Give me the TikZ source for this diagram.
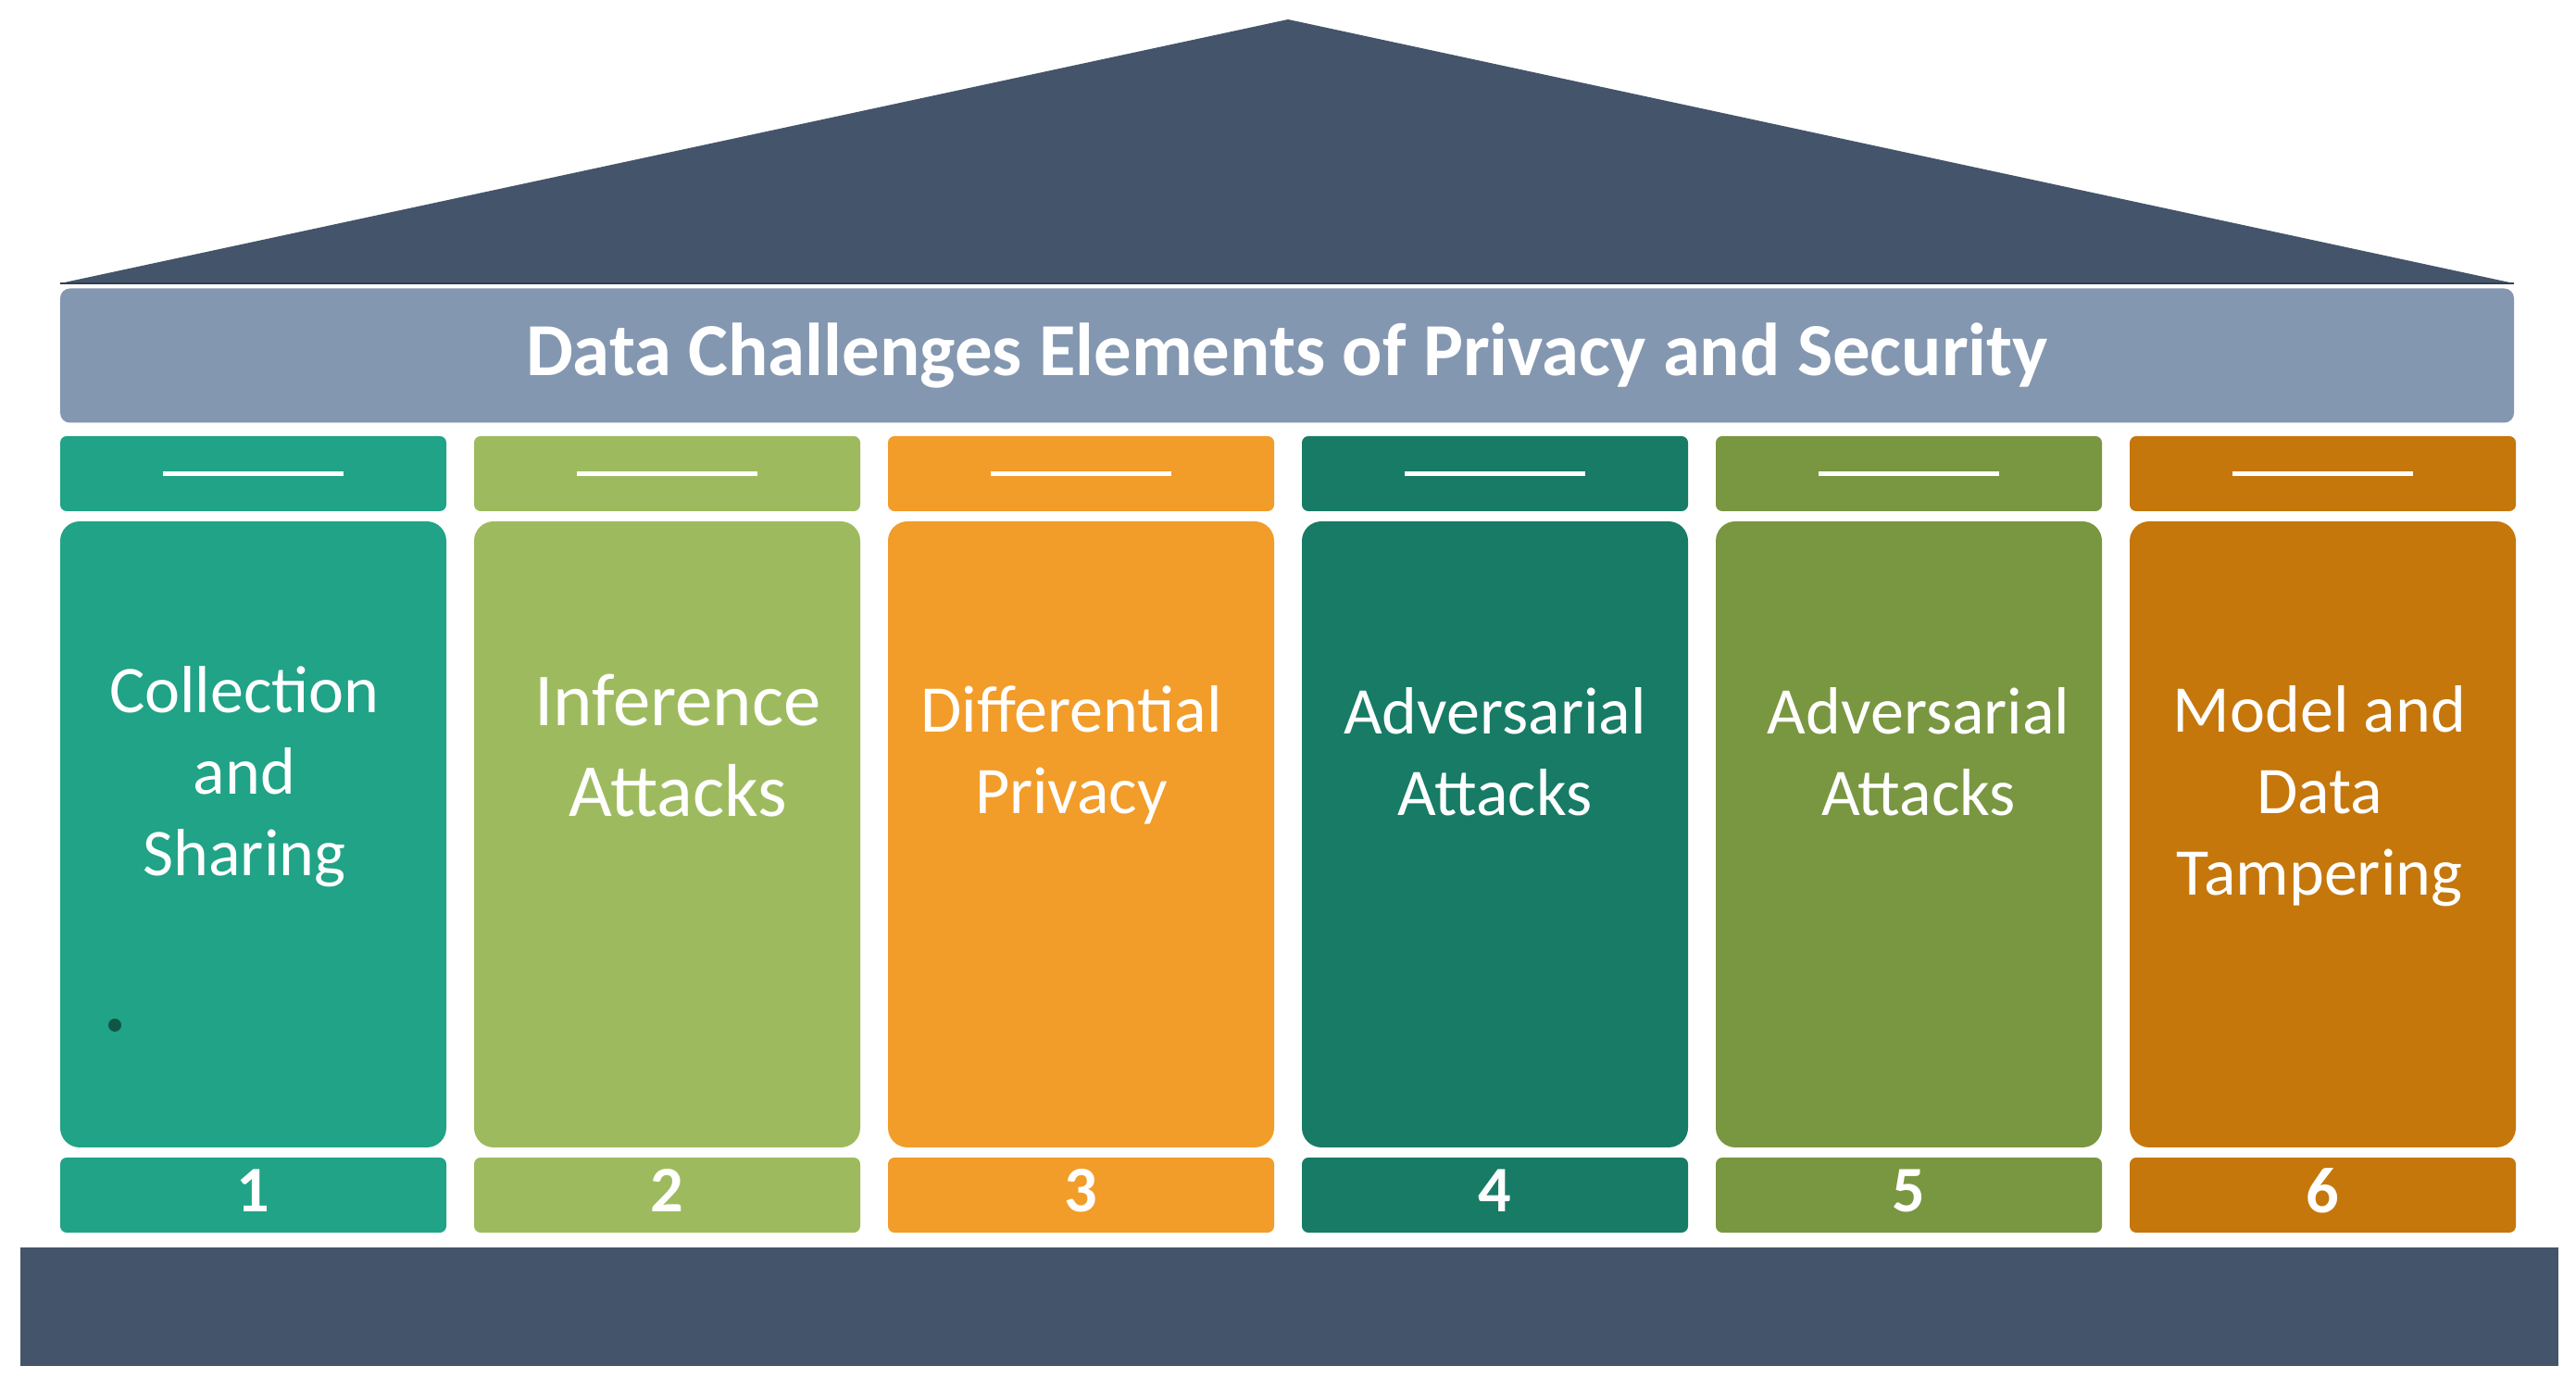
\documentclass[tikz,border=0pt]{standalone}
\usepackage{fontspec}
\setmainfont{Carlito}
\usetikzlibrary{positioning}
\definecolor{roofSlate}{HTML}{44546A}
\definecolor{roofEdge}{HTML}{333F50}
\definecolor{bannerBlue}{HTML}{8497B0}
\definecolor{pillarTeal}{HTML}{20A386}
\definecolor{pillarLime}{HTML}{9DBB5E}
\definecolor{pillarAmber}{HTML}{F29C29}
\definecolor{pillarPine}{HTML}{177B65}
\definecolor{pillarOlive}{HTML}{799641}
\definecolor{pillarRust}{HTML}{C5770C}

\begin{document}
\begin{tikzpicture}[
    banner/.style={rectangle, rounded corners=3pt, fill=bannerBlue, text=white, align=center, font=\fontsize{23}{27}\selectfont\bfseries, minimum width=26.5cm, minimum height=1.45cm, inner sep=0pt},
    pillarCap/.style={rectangle, rounded corners=2pt, text=white, minimum width=4.17cm, minimum height=0.81cm, inner sep=0pt},
    pillarBody/.style={rectangle, rounded corners=6pt, minimum width=4.17cm, minimum height=6.76cm, inner sep=0pt},
    pillarText/.style={text=white, align=center, font=\fontsize{20.5}{25}\selectfont, inner sep=0pt},
    pillarNum/.style={rectangle, rounded corners=2pt, text=white, font=\fontsize{20}{24}\selectfont\bfseries, text depth=0.1cm, minimum width=4.17cm, minimum height=0.81cm, inner sep=0pt},
    plinth/.style={rectangle, fill=roofSlate, minimum width=27.41cm, minimum height=1.28cm, inner sep=0pt},
]
\useasboundingbox (0,0) rectangle (27.82,15.02);
% roof
\fill[roofSlate] (0.65,11.96) -- (13.91,14.81) -- (27.15,11.96) -- cycle;
\draw[roofEdge, line width=0.8pt] (0.65,11.96) -- (27.15,11.96);
\node[banner] (title) at (13.90, 11.18) {Data Challenges Elements of Privacy and Security};

% caps
\node[pillarCap, fill=pillarTeal]  (cap1) at ( 2.735, 9.905) {\rule{1.95cm}{1.4pt}};
\node[pillarCap, fill=pillarLime]  (cap2) at ( 7.205, 9.905) {\rule{1.95cm}{1.4pt}};
\node[pillarCap, fill=pillarAmber] (cap3) at (11.675, 9.905) {\rule{1.95cm}{1.4pt}};
\node[pillarCap, fill=pillarPine]  (cap4) at (16.145, 9.905) {\rule{1.95cm}{1.4pt}};
\node[pillarCap, fill=pillarOlive] (cap5) at (20.615, 9.905) {\rule{1.95cm}{1.4pt}};
\node[pillarCap, fill=pillarRust]  (cap6) at (25.085, 9.905) {\rule{1.95cm}{1.4pt}};

% pillars
\node[pillarBody, fill=pillarTeal]  (body1) at ( 2.735, 6.01) {};
\node[pillarBody, fill=pillarLime]  (body2) at ( 7.205, 6.01) {};
\node[pillarBody, fill=pillarAmber] (body3) at (11.675, 6.01) {};
\node[pillarBody, fill=pillarPine]  (body4) at (16.145, 6.01) {};
\node[pillarBody, fill=pillarOlive] (body5) at (20.615, 6.01) {};
\node[pillarBody, fill=pillarRust]  (body6) at (25.085, 6.01) {};

\node[pillarText] (lbl1) at ( 2.64, 6.63) {Collection\\and\\Sharing};
\node[pillarText, font=\fontsize{23}{28}\selectfont] (lbl2) at ( 7.32, 6.97) {Inference\\Attacks};
\node[pillarText] (lbl3) at (11.57, 6.87) {Differential\\Privacy};
\node[pillarText] (lbl4) at (16.145, 6.90) {Adversarial\\Attacks};
\node[pillarText] (lbl5) at (20.72, 6.90) {Adversarial\\Attacks};
\node[pillarText] (lbl6) at (25.05, 6.42) {Model and\\Data\\Tampering};
\fill[pillarPine!70!black] (1.24, 3.95) circle (0.07);

% numbers
\node[pillarNum, fill=pillarTeal]  (num1) at ( 2.735, 2.115) {1};
\node[pillarNum, fill=pillarLime]  (num2) at ( 7.205, 2.115) {2};
\node[pillarNum, fill=pillarAmber] (num3) at (11.675, 2.115) {3};
\node[pillarNum, fill=pillarPine]  (num4) at (16.145, 2.115) {4};
\node[pillarNum, fill=pillarOlive] (num5) at (20.615, 2.115) {5};
\node[pillarNum, fill=pillarRust]  (num6) at (25.085, 2.115) {6};

\node[plinth] (base) at (13.925, 0.91) {};
\end{tikzpicture}
\end{document}
